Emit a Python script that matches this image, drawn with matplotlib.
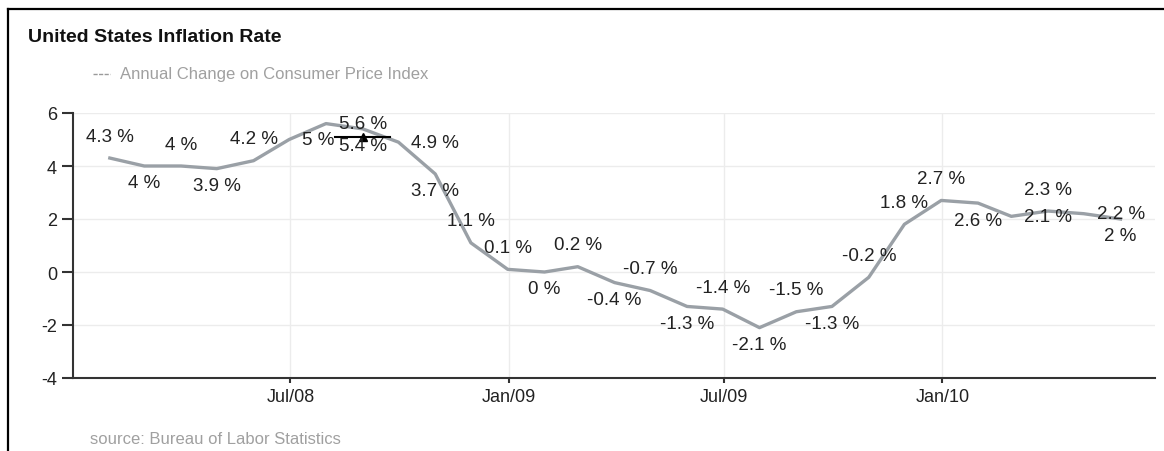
import pandas as pd
import matplotlib.pyplot as plt
from matplotlib.lines import Line2D

plt.rcParams['font.family'] = ['Liberation Sans', 'DejaVu Sans']
plt.rcParams['axes.unicode_minus'] = False

# monthly CPI change, stamped at month end
months = pd.date_range('2008-01-01', periods=29, freq='MS') + pd.offsets.MonthEnd(0)
cpi_change = [4.3, 4.0, 4.0, 3.9, 4.2, 5.0, 5.6, 5.4, 4.9, 3.7, 1.1, 0.1,
              0.0, 0.2, -0.4, -0.7, -1.3, -1.4, -2.1, -1.5, -1.3, -0.2, 1.8, 2.7,
              2.6, 2.1, 2.3, 2.2, 2.0]

# side of the point each value label goes on
label_side = ['up', 'down', 'up', 'down', 'up', 'right', 'right', 'down', 'right', 'down', 'up', 'up',
              'down', 'up', 'down', 'up', 'down', 'up', 'down', 'up', 'down', 'up', 'up', 'up',
              'down', 'right', 'up', 'right', 'down']

tick_dates = pd.to_datetime(['2008-07-01', '2009-01-01', '2009-07-01', '2010-01-01'])
tick_labels = ['Jul/08', 'Jan/09', 'Jul/09', 'Jan/10']
y_ticks = [-4, -2, 0, 2, 4, 6]

focus_date = months[7]
focus_value = 5.1

W, H = 1164, 452
fig = plt.figure(figsize=(W / 100, H / 100), dpi=100)
ax = fig.add_axes([73 / W, 73 / H, 1082 / W, 265 / H])

ax.plot(months, cpi_change, color='#9aa0a6', lw=2.4, solid_joinstyle='round', zorder=3)

# little black focus marker near the peak
half = pd.Timedelta(days=23)
ax.plot([focus_date - half, focus_date + half], [focus_value, focus_value],
        color='black', lw=1.5, zorder=4)
ax.plot([focus_date], [focus_value], marker='^', color='black', ms=6, zorder=4)

offsets = {'up': (0, 22, 'center'), 'down': (0, -17, 'center'), 'right': (13, 0, 'left')}
for d, v, side in zip(months, cpi_change, label_side):
    dx, dy, ha = offsets[side]
    ax.annotate(f'{v:g} %', (d, v), xytext=(dx, dy), textcoords='offset pixels',
                ha=ha, va='center', fontsize=13.5, color='#222222', zorder=5)

ax.set_xlim(pd.Timestamp('2007-12-31'), pd.Timestamp('2010-06-29'))
ax.set_ylim(-4, 6)
ax.set_yticks(y_ticks)
ax.set_xticks(tick_dates)
ax.set_xticklabels(tick_labels)

ax.grid(color='#ececec', lw=1)
ax.set_axisbelow(True)
for s in ['top', 'right']:
    ax.spines[s].set_visible(False)
for s in ['left', 'bottom']:
    ax.spines[s].set_color('#333333')
    ax.spines[s].set_linewidth(1.5)

ax.tick_params(axis='y', length=8, width=1.5, color='#333333', pad=3.5,
               labelsize=13, labelcolor='#222222')
ax.tick_params(axis='x', length=3.6, width=1.5, color='#333333', pad=3.5,
               labelsize=13, labelcolor='#222222')

fig.text(28 / W, 1 - 38 / H, 'United States Inflation Rate', fontsize=14,
         fontweight='bold', color='#111111', va='center')
fig.add_artist(Line2D([93 / W, 110 / W], [1 - 75 / H, 1 - 75 / H], color='#9a9a9a',
                      lw=1, dashes=(3, 1)))
fig.text(120 / W, 1 - 75 / H, 'Annual Change on Consumer Price Index', fontsize=12,
         color='#a0a0a0', va='center')
fig.text(90 / W, 1 - 440 / H, 'source: Bureau of Labor Statistics', fontsize=12,
         color='#a0a0a0', va='center')

# outer frame, left and top edges
fig.add_artist(Line2D([8 / W, 8 / W], [0, 1 - 10 / H], color='black', lw=1.6))
fig.add_artist(Line2D([8 / W, 1], [1 - 10 / H, 1 - 10 / H], color='black', lw=1.6))

fig.savefig('out.png', dpi=100)
